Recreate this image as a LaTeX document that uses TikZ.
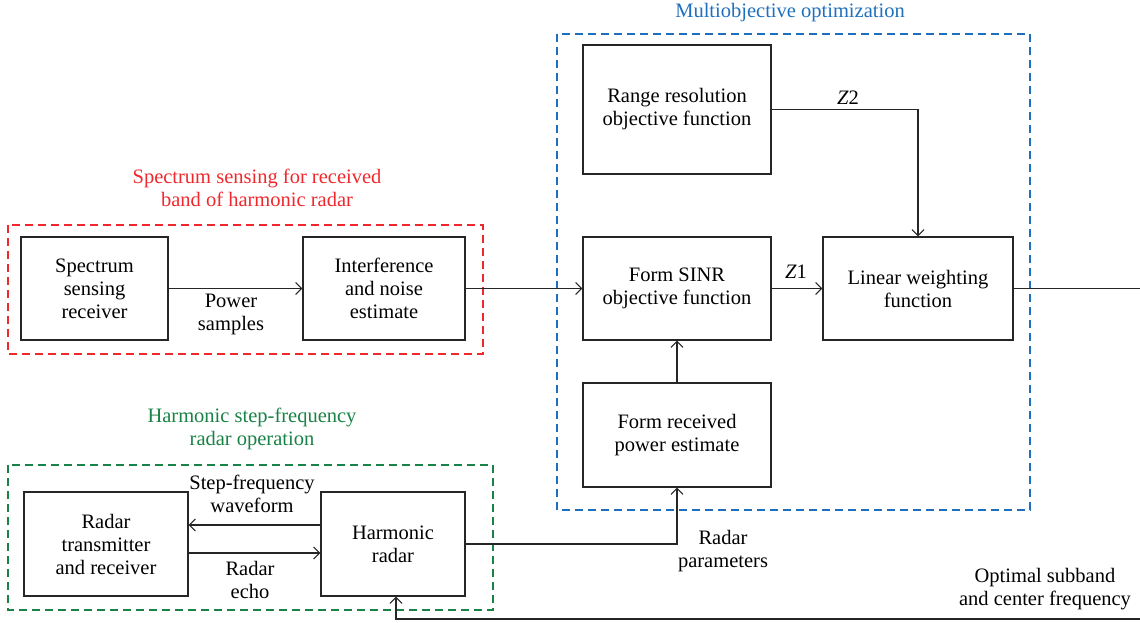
\documentclass[tikz,border=0pt]{standalone}
\usepackage{fontspec}
\setmainfont{Liberation Serif}
\usetikzlibrary{arrows.meta}
\definecolor{cred}{RGB}{240,40,45}
\definecolor{cblue}{RGB}{30,112,190}
\definecolor{cgreen}{RGB}{25,130,70}
\tikzset{
  box/.style={draw=black!85, line width=1.3pt, inner sep=0pt, align=center, font=\fontsize{20.5}{23}\selectfont},
  lbl/.style={inner sep=0pt, align=center, font=\fontsize{20.5}{23}\selectfont},
  arr/.style={draw=black!85, line width=1.2pt, -{Straight Barb[length=6pt,width=12pt,line width=1.1pt]}},
  ln/.style={draw=black!85, line width=1.2pt},
  frame/.style={line width=1.1pt, dash pattern=on 8pt off 5pt},
}
\begin{document}
\begin{tikzpicture}[x=1pt,y=-1pt]
\useasboundingbox (0,0) rectangle (1140,623);
% frames
\draw[frame, cred] (8,225) rectangle (483,354);
\draw[frame, cblue] (557,34) rectangle (1030,510);
\draw[frame, cgreen] (8,465) rectangle (493,610);
% titles
\node[lbl, text=cred] (tred) at (257,188) {Spectrum sensing for received\\band of harmonic radar};
\node[lbl, text=cblue] (tblue) at (790,13) {Multiobjective optimization};
\node[lbl, text=cgreen] (tgreen) at (252,429) {Harmonic step-frequency\\radar operation};
% boxes
\node[box, minimum width=147, minimum height=103] (ssr) at (94.5,288.5) {Spectrum\\sensing\\receiver};
\node[box, minimum width=162, minimum height=103] (ine) at (384,288.5) {Interference\\and noise\\estimate};
\node[box, minimum width=188, minimum height=103] (sinr) at (677,288.5) {Form SINR\\objective function};
\node[box, minimum width=188, minimum height=129] (rr) at (677,109.5) {Range resolution\\objective function};
\node[box, minimum width=190, minimum height=103] (lw) at (918,288.5) {Linear weighting\\function};
\node[box, minimum width=188, minimum height=104] (rp) at (677,435) {Form received\\power estimate};
\node[box, minimum width=164, minimum height=104] (rt) at (106,544) {Radar\\transmitter\\and receiver};
\node[box, minimum width=144, minimum height=104] (hr) at (393,544) {Harmonic\\radar};
% labels
\node[lbl] (lps) at (231,314) {Power\\samples};
\node[lbl] (lz2) at (848,98) {\textit{Z}2};
\node[lbl] (lz1) at (796,272) {\textit{Z}1};
\node[lbl] (lsf) at (252,494) {Step-frequency\\waveform};
\node[lbl] (lre) at (250,580) {Radar\\echo};
\node[lbl] (lrpar) at (723,551) {Radar\\parameters};
\node[lbl] (lopt) at (1045,589) {Optimal subband\\and center frequency};
% coordinates
\coordinate (out) at (1140,288.5);
\coordinate (fb) at (1140,619);
% connectors
\draw[arr] (ssr) -- (ine);
\draw[arr] (ine) -- (sinr);
\draw[arr] (sinr) -- (lw);
\draw[arr] (rr.east) -| (lw.north);
\draw[arr] (rp) -- (sinr);
\draw[ln] (lw.east) -- (out);
\draw[arr] ([yshift=19pt]hr.west) -- ([yshift=19pt]rt.east);
\draw[arr] ([yshift=-9pt]rt.east) -- ([yshift=-9pt]hr.west);
\draw[arr] (hr.east) -| (rp.south);
\draw[arr] (fb) -| ([xshift=3pt]hr.south);
\end{tikzpicture}
\end{document}
